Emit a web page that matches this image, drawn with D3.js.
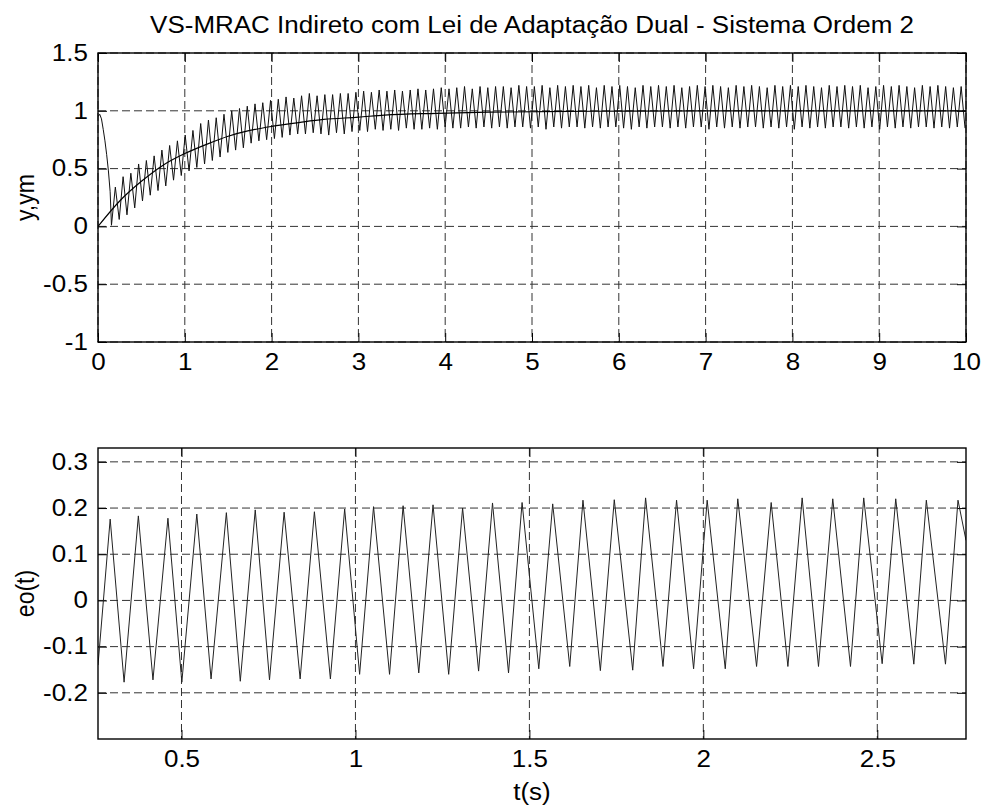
<!DOCTYPE html>
<html>
<head>
<meta charset="utf-8">
<script src="https://cdn.jsdelivr.net/npm/d3@7"></script>
<style>
  body { margin: 0; background: #fff; }
  svg text { font-family: "Liberation Sans", Arial, sans-serif; fill: #000; }
</style>
</head>
<body>
<div id="chart"></div>
<script>
var W = 986, H = 810;

// model reference ym(t)
var ymT = [0, 0.25, 0.5, 0.75, 1, 1.25, 1.5, 1.75, 2, 2.33, 2.6, 3, 3.3, 3.9, 4.5, 5.7, 7, 10];
var ymV = [0, 0.22, 0.39, 0.53, 0.63, 0.71, 0.78, 0.83, 0.865, 0.90, 0.925, 0.945, 0.963, 0.978, 0.988, 0.996, 1.0, 1.0];

// plant output y(t): initial transient, then one peak / one trough per cycle
var yHeadT = [0, 0.02, 0.04, 0.06, 0.08, 0.1, 0.12, 0.14, 0.155];
var yHeadV = [0.95, 0.97, 0.93, 0.84, 0.74, 0.62, 0.48, 0.30, 0.01];
var yHalfStep = 0.0447; // half period of the chattering, s
var yPeaks = [
  0.34, 0.43, 0.46, 0.54, 0.57, 0.61, 0.66, 0.70, 0.74, 0.79,
  0.83, 0.89, 0.92, 0.94, 0.97, 1.00, 1.02, 1.04, 1.06, 1.07,
  1.09, 1.10, 1.12, 1.11, 1.13, 1.15, 1.13, 1.14, 1.14, 1.15,
  1.15, 1.16, 1.17, 1.16, 1.18, 1.17, 1.18, 1.17, 1.18, 1.19,
  1.18, 1.19, 1.20, 1.19, 1.20, 1.21, 1.19, 1.21, 1.20, 1.21,
  1.21, 1.20, 1.22, 1.21, 1.21, 1.22, 1.20, 1.22, 1.21, 1.22,
  1.21, 1.22, 1.20, 1.22, 1.21, 1.22, 1.21, 1.20, 1.22, 1.21,
  1.22, 1.21, 1.22, 1.20, 1.21, 1.22, 1.21, 1.22, 1.21, 1.20,
  1.22, 1.21, 1.22, 1.21, 1.20, 1.22, 1.21, 1.22, 1.21, 1.22,
  1.21, 1.20, 1.22, 1.21, 1.22, 1.21, 1.22, 1.20, 1.21, 1.22,
  1.21, 1.22, 1.21, 1.20, 1.22, 1.21, 1.22, 1.21, 1.20, 1.21
];
var yTroughs = [
  0.06, 0.10, 0.16, 0.22, 0.27, 0.31, 0.35, 0.40, 0.44, 0.48,
  0.51, 0.54, 0.57, 0.60, 0.64, 0.66, 0.68, 0.72, 0.74, 0.75,
  0.76, 0.77, 0.79, 0.80, 0.80, 0.81, 0.80, 0.79, 0.81, 0.80,
  0.82, 0.83, 0.82, 0.84, 0.83, 0.84, 0.83, 0.85, 0.84, 0.84,
  0.85, 0.84, 0.86, 0.85, 0.85, 0.86, 0.85, 0.86, 0.85, 0.86,
  0.85, 0.86, 0.86, 0.85, 0.86, 0.84, 0.86, 0.85, 0.86, 0.86,
  0.85, 0.86, 0.85, 0.86, 0.86, 0.85, 0.84, 0.86, 0.85, 0.86,
  0.86, 0.85, 0.86, 0.85, 0.86, 0.86, 0.84, 0.86, 0.85, 0.86,
  0.85, 0.86, 0.86, 0.85, 0.86, 0.85, 0.86, 0.84, 0.86, 0.85,
  0.86, 0.85, 0.86, 0.86, 0.85, 0.86, 0.85, 0.86, 0.84, 0.86,
  0.85, 0.86, 0.85, 0.86, 0.86, 0.85, 0.86, 0.85, 0.86, 0.85
];

// output error eo(t), extremes
var eoT = [0.26, 0.295, 0.335, 0.376, 0.418, 0.461, 0.501, 0.544, 0.585, 0.629, 0.669,
  0.712, 0.753, 0.795, 0.841, 0.882, 0.928, 0.969, 1.012, 1.052, 1.098,
  1.137, 1.182, 1.223, 1.268, 1.308, 1.354, 1.394, 1.440, 1.479, 1.527,
  1.567, 1.616, 1.654, 1.704, 1.744, 1.797, 1.834, 1.884, 1.923, 1.972,
  2.011, 2.063, 2.099, 2.153, 2.195, 2.243, 2.284, 2.331, 2.372, 2.423,
  2.461, 2.514, 2.553, 2.605, 2.641, 2.696, 2.732, 2.755];
var eoV = [-0.14, 0.176, -0.177, 0.183, -0.172, 0.178, -0.177, 0.187, -0.170, 0.190, -0.175,
  0.196, -0.172, 0.191, -0.170, 0.192, -0.170, 0.198, -0.160, 0.203, -0.160,
  0.205, -0.157, 0.207, -0.160, 0.200, -0.153, 0.211, -0.157, 0.212, -0.148,
  0.209, -0.143, 0.217, -0.152, 0.218, -0.151, 0.222, -0.143, 0.217, -0.148,
  0.217, -0.148, 0.220, -0.143, 0.212, -0.143, 0.222, -0.143, 0.220, -0.143,
  0.222, -0.137, 0.220, -0.138, 0.217, -0.138, 0.217, 0.13];

var topTicksX = [0, 1, 2, 3, 4, 5, 6, 7, 8, 9, 10];
var topTicksY = [-1, -0.5, 0, 0.5, 1, 1.5];
var botTicksX = [0.5, 1, 1.5, 2, 2.5];
var botTicksY = [-0.2, -0.1, 0, 0.1, 0.2, 0.3];

var titleText = "VS-MRAC Indireto com Lei de Adaptação Dual - Sistema Ordem 2";

var svg = d3.select("#chart").append("svg")
    .attr("width", W)
    .attr("height", H);

var fontSize = 23;
var stretch = "scale(1.13,1)"; // the original figure is a little wider than tall

// draws one MATLAB-like axes box with grid, ticks on all sides
function makeAxes(box, xDom, yDom, xTicks, yTicks, fmt, ylab, id) {
    var x = d3.scaleLinear().domain(xDom).range([box.x0, box.x1]);
    var y = d3.scaleLinear().domain(yDom).range([box.y1, box.y0]);

    svg.append("clipPath").attr("id", id)
        .append("rect")
        .attr("x", box.x0).attr("y", box.y0)
        .attr("width", box.x1 - box.x0).attr("height", box.y1 - box.y0);

    var grid = svg.append("g");
    grid.selectAll(".vg").data(xTicks).enter().append("line")
        .attr("x1", function(d) { return x(d); })
        .attr("x2", function(d) { return x(d); })
        .attr("y1", box.y0).attr("y2", box.y1)
        .attr("stroke", "#333").attr("stroke-width", 1)
        .attr("stroke-dasharray", "8,4");
    grid.selectAll(".hg").data(yTicks).enter().append("line")
        .attr("y1", function(d) { return y(d); })
        .attr("y2", function(d) { return y(d); })
        .attr("x1", box.x0).attr("x2", box.x1)
        .attr("stroke", "#333").attr("stroke-width", 1)
        .attr("stroke-dasharray", "8,4");

    var ax = {};
    ax.bottom = svg.append("g")
        .attr("transform", "translate(0," + box.y1 + ")")
        .call(d3.axisBottom(x).tickValues(xTicks).tickSize(-9).tickSizeOuter(0)
              .tickPadding(12).tickFormat(fmt));
    ax.top = svg.append("g")
        .attr("transform", "translate(0," + box.y0 + ")")
        .call(d3.axisTop(x).tickValues(xTicks).tickSize(-9).tickSizeOuter(0).tickFormat(""));
    ax.left = svg.append("g")
        .attr("transform", "translate(" + box.x0 + ",0)")
        .call(d3.axisLeft(y).tickValues(yTicks).tickSize(-9).tickSizeOuter(0)
              .tickPadding(9).tickFormat(fmt));
    ax.right = svg.append("g")
        .attr("transform", "translate(" + box.x1 + ",0)")
        .call(d3.axisRight(y).tickValues(yTicks).tickSize(-9).tickSizeOuter(0).tickFormat(""));

    Object.keys(ax).forEach(function(k) {
        ax[k].select(".domain").remove();
        ax[k].selectAll("line").attr("stroke", "#000");
        ax[k].selectAll("text")
            .style("font-size", fontSize + "px")
            .attr("fill", "#000")
            .attr("transform", stretch);
    });

    svg.append("text")
        .attr("transform", "translate(" + 34 + "," + ((box.y0 + box.y1) / 2) + ") rotate(-90) scale(1,1.13)")
        .attr("text-anchor", "middle")
        .style("font-size", fontSize + "px")
        .text(ylab);

    var plot = svg.append("g").attr("clip-path", "url(#" + id + ")");
    return { x: x, y: y, plot: plot, box: box };
}

function frame(box) {
    svg.append("rect")
        .attr("x", box.x0).attr("y", box.y0)
        .attr("width", box.x1 - box.x0).attr("height", box.y1 - box.y0)
        .attr("fill", "none").attr("stroke", "#000").attr("stroke-width", 1.4);
}

function centeredText(x, y, txt) {
    svg.append("g")
        .attr("transform", "translate(" + x + "," + y + ") " + stretch)
        .append("text")
        .attr("text-anchor", "middle")
        .style("font-size", fontSize + "px")
        .text(txt);
}

var fmt = function(d) { return String(d); };

// ---- top plot: y and ym ----
var topBox = { x0: 98, x1: 966, y0: 53, y1: 342 };
var A = makeAxes(topBox, [0, 10], [-1, 1.5], topTicksX, topTicksY, fmt, "y,ym", "clipTop");

var yPts = yHeadT.map(function(t, i) { return [t, yHeadV[i]]; });
var t0 = yHeadT[yHeadT.length - 1];
yPeaks.forEach(function(p, i) {
    yPts.push([t0 + yHalfStep * (2 * i + 1), p]);
    yPts.push([t0 + yHalfStep * (2 * i + 2), yTroughs[i]]);
});

var lineTop = d3.line()
    .x(function(d) { return A.x(d[0]); })
    .y(function(d) { return A.y(d[1]); });

A.plot.append("path")
    .datum(yPts)
    .attr("fill", "none")
    .attr("stroke", "#111")
    .attr("stroke-width", 1)
    .attr("d", lineTop);

A.plot.append("path")
    .datum(ymT.map(function(t, i) { return [t, ymV[i]]; }))
    .attr("fill", "none")
    .attr("stroke", "#000")
    .attr("stroke-width", 1.2)
    .attr("d", lineTop.curve(d3.curveMonotoneX));
frame(topBox);

centeredText((topBox.x0 + topBox.x1) / 2, 33, titleText);

// ---- bottom plot: eo(t) ----
var botBox = { x0: 98, x1: 966, y0: 448, y1: 739 };
var B = makeAxes(botBox, [0.26, 2.755], [-0.3, 0.33], botTicksX, botTicksY, fmt, "eo(t)", "clipBot");

B.plot.append("path")
    .datum(eoT.map(function(t, i) { return [t, eoV[i]]; }))
    .attr("fill", "none")
    .attr("stroke", "#222")
    .attr("stroke-width", 1)
    .attr("d", d3.line()
        .x(function(d) { return B.x(d[0]); })
        .y(function(d) { return B.y(d[1]); }));
frame(botBox);

centeredText((botBox.x0 + botBox.x1) / 2, 800, "t(s)");
</script>
</body>
</html>
